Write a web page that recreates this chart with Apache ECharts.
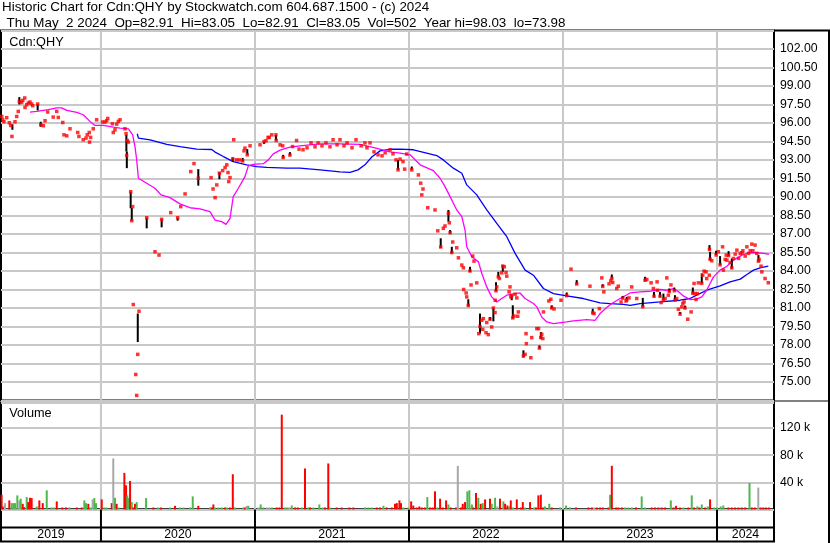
<!DOCTYPE html>
<html><head><meta charset="utf-8">
<script src="https://cdn.jsdelivr.net/npm/echarts@6/dist/echarts.min.js"></script>
<style>html,body{margin:0;padding:0;background:#fff}#c{width:830px;height:543px}</style>
</head><body><div id="c"></div>
<script>
// ---------------- DATA (time in decimal years) ----------------
const closeT = [2019.356,2019.362,2019.370,2019.388,2019.405,2019.414,2019.422,2019.442,2019.453,2019.463,2019.470,2019.485,2019.492,2019.505,2019.507,2019.518,2019.528,2019.539,2019.550,2019.557,2019.589,2019.609,2019.626,2019.637,2019.654,2019.690,2019.713,2019.723,2019.752,2019.760,2019.778,2019.799,2019.849,2019.857,2019.885,2019.903,2019.911,2019.924,2019.926,2019.933,2019.950,2019.972,
2020.011,2020.026,2020.037,2020.044,2020.074,2020.080,2020.091,2020.102,2020.113,2020.124,2020.156,2020.163,2020.167,2020.171,2020.178,2020.193,2020.200,2020.206,2020.210,2020.226,2020.232,2020.239,2020.247,2020.297,2020.351,2020.377,2020.394,2020.453,2020.498,2020.518,2020.546,2020.583,2020.604,2020.632,2020.715,2020.728,2020.741,2020.752,2020.769,2020.790,2020.806,2020.817,2020.825,2020.830,2020.838,2020.856,2020.862,2020.881,2020.898,2020.920,2020.929,2020.935,2020.950,2020.968,
2021.033,2021.059,2021.072,2021.085,2021.093,2021.109,2021.136,2021.138,2021.163,2021.180,2021.183,2021.227,2021.244,2021.270,2021.286,2021.312,2021.338,2021.364,2021.390,2021.410,2021.435,2021.461,2021.487,2021.507,2021.533,2021.552,2021.578,2021.598,2021.630,2021.656,2021.689,2021.714,2021.727,2021.747,2021.773,2021.799,2021.825,2021.845,2021.877,2021.896,2021.916,2021.929,2021.942,2021.961,2021.972,2021.985,
2022.018,2022.061,2022.076,2022.083,2022.091,2022.122,2022.169,2022.187,2022.206,2022.223,2022.234,2022.256,2022.262,2022.267,2022.278,2022.284,2022.310,2022.321,2022.343,2022.353,2022.355,2022.371,2022.375,2022.385,2022.396,2022.403,2022.414,2022.422,2022.440,2022.453,2022.461,2022.472,2022.479,2022.483,2022.500,2022.505,2022.515,2022.526,2022.537,2022.548,2022.559,2022.560,2022.565,2022.570,2022.580,2022.587,2022.602,2022.609,2022.619,2022.630,2022.635,2022.650,2022.656,2022.661,2022.667,2022.674,2022.682,2022.689,2022.700,2022.706,2022.710,2022.743,2022.754,2022.760,2022.762,2022.791,2022.797,2022.830,2022.841,2022.847,2022.856,2022.862,2022.869,2022.873,2022.908,2022.921,2022.927,2022.942,2022.987,
2023.024,2023.052,2023.089,2023.175,2023.193,2023.202,2023.236,2023.252,2023.258,2023.265,2023.299,2023.310,2023.317,2023.323,2023.349,2023.359,2023.377,2023.388,2023.409,2023.414,2023.429,2023.446,2023.479,2023.518,2023.533,2023.544,2023.572,2023.587,2023.591,2023.611,2023.613,2023.630,2023.637,2023.652,2023.663,2023.674,2023.684,2023.690,2023.701,2023.723,2023.727,2023.738,2023.749,2023.760,2023.771,2023.778,2023.786,2023.792,2023.810,2023.832,2023.843,2023.851,2023.858,2023.864,2023.872,2023.879,2023.901,2023.907,2023.916,2023.929,2023.933,2023.950,2023.951,2023.955,2023.966,2023.994,
2024.009,2024.020,2024.036,2024.042,2024.053,2024.060,2024.064,2024.075,2024.085,2024.096,2024.107,2024.118,2024.129,2024.140,2024.151,2024.162,2024.168,2024.183,2024.194,2024.205,2024.216,2024.226,2024.233,2024.247,2024.258,2024.269,2024.273,2024.286,2024.291,2024.312,2024.333];
const closeV = [96.53,96.26,96.10,96.43,96.02,95.80,94.91,96.10,96.53,96.94,97.75,97.67,97.83,98.03,97.26,97.48,97.62,97.70,97.54,97.40,97.54,95.86,95.78,96.18,96.89,96.48,96.94,96.45,96.04,95.04,94.96,95.53,95.23,94.91,94.64,94.78,95.04,95.23,94.45,94.83,95.53,96.26,
96.08,96.08,96.18,96.37,95.94,95.23,95.45,95.91,96.13,96.26,95.53,95.13,93.36,94.58,94.45,90.43,88.08,89.22,81.28,75.61,73.91,77.24,80.74,88.32,85.56,85.29,88.19,88.73,88.32,89.22,90.25,92.06,92.71,91.52,91.57,90.65,89.95,90.98,91.93,92.14,92.39,92.61,91.98,91.25,91.57,93.09,94.64,93.01,93.01,92.93,93.74,93.96,93.42,94.15,
94.23,94.50,94.56,94.83,94.83,95.04,95.04,94.58,94.23,94.15,93.20,93.40,94.09,94.58,93.88,93.83,93.99,94.39,94.07,94.39,94.15,94.39,94.07,94.64,94.23,94.64,94.15,94.39,93.99,94.64,94.15,94.39,93.99,94.39,93.66,93.42,93.34,93.58,93.83,93.50,93.01,92.20,93.07,92.87,92.26,93.48,
92.20,91.79,91.12,90.17,90.65,89.13,88.95,87.26,85.95,87.46,87.65,88.68,87.91,87.10,85.50,86.35,85.88,85.07,84.48,84.26,82.50,82.22,81.90,81.20,84.00,82.87,85.21,84.80,83.04,78.92,79.50,80.00,79.27,80.14,79.00,79.82,78.84,80.10,79.46,81.00,80.63,81.63,82.40,82.71,83.52,83.39,83.85,84.40,84.34,83.88,83.58,82.31,82.71,81.90,82.00,80.20,80.35,82.12,81.82,80.33,80.68,77.10,77.24,78.92,78.11,76.97,78.60,79.33,79.33,77.75,78.60,78.87,78.52,80.68,81.57,81.71,81.00,80.92,81.63,
82.00,84.15,82.95,82.77,80.60,80.55,80.95,83.44,82.75,82.31,82.96,83.20,83.40,83.07,82.58,82.77,81.49,81.80,81.57,81.65,81.82,82.71,81.77,81.10,83.25,83.31,83.04,82.58,81.95,83.12,82.44,81.95,81.44,81.65,81.77,83.44,82.04,82.35,82.87,82.40,81.65,81.77,80.90,80.50,81.09,81.36,81.49,81.00,80.09,80.68,82.20,82.99,82.17,81.69,82.17,83.04,83.00,83.66,83.99,83.93,83.39,83.66,85.75,84.95,84.83,85.30,
85.56,84.50,85.96,84.07,84.94,85.29,84.88,85.25,84.69,84.25,85.02,85.37,85.69,85.02,85.43,85.48,85.64,85.21,85.96,85.43,85.64,86.18,85.64,86.10,85.43,84.80,84.94,84.39,83.93,83.39,83.05];

// daily high-low ranges
const rangeT  = [2019.425,2019.470,2019.589,2019.609,2020.165,2020.168,2020.193,2020.200,2020.239,2020.297,2020.394,2020.498,2020.632,2020.769,2020.856,2020.920,2020.950,2021.059,2021.136,2021.183,2021.227,2021.929,2022.018,2022.206,2022.256,2022.267,2022.278,2022.385,2022.396,2022.461,2022.526,2022.548,2022.565,2022.580,2022.609,2022.667,2022.674,2022.743,2022.847,2022.856,2022.927,2023.024,2023.089,2023.193,2023.258,2023.317,2023.388,2023.414,2023.518,2023.533,2023.591,2023.630,2023.652,2023.690,2023.723,2023.727,2023.760,2023.792,2023.843,2023.901,2023.951,2023.955,2023.994,2024.020,2024.075,2024.096,2024.269];
const rangeLo = [95.45,97.50,97.02,95.70,93.69,92.34,89.09,88.08,78.24,87.46,87.54,88.08,90.92,91.44,92.87,92.87,93.42,94.31,94.58,93.15,93.36,92.20,92.20,85.88,88.00,87.05,85.43,81.14,83.93,78.92,80.00,79.92,82.36,83.52,83.93,81.63,80.14,77.02,77.70,78.52,80.95,81.95,82.91,80.55,82.71,83.39,81.77,81.63,81.09,83.20,81.90,81.90,81.63,82.31,82.39,81.63,80.49,80.95,82.17,82.99,85.70,84.89,85.29,84.48,85.21,84.21,84.75];
const rangeHi = [95.90,98.10,97.54,96.10,95.04,93.69,90.43,89.11,80.55,88.32,88.19,88.32,92.26,92.01,93.20,93.17,93.88,94.50,95.04,93.42,93.64,93.00,92.47,86.65,88.95,87.32,85.96,81.71,84.34,80.55,80.27,81.00,83.09,83.93,84.48,82.04,81.22,77.57,77.97,79.05,81.22,82.26,83.26,80.95,82.93,83.72,81.98,81.90,81.82,83.53,82.31,82.31,82.17,82.58,82.66,82.04,80.68,81.20,82.66,83.80,86.10,85.56,85.64,85.21,85.61,85.02,85.29];

// short moving average (magenta)
const maShortT = [2019.539,2019.583,2019.658,2019.713,2019.745,2019.778,2019.843,2019.885,2019.929,2019.961,2020.015,2020.080,2020.124,2020.178,2020.206,2020.221,2020.232,2020.243,2020.297,2020.351,2020.390,2020.448,2020.513,2020.578,2020.643,2020.708,2020.741,2020.784,2020.812,2020.838,2020.859,2020.892,2020.935,2020.957,2020.989,2021.054,2021.087,2021.119,2021.163,2021.227,2021.292,2021.422,2021.552,2021.682,2021.779,2021.877,2021.942,2022.007,2022.072,2022.158,2022.202,2022.234,2022.267,2022.310,2022.343,2022.364,2022.375,2022.408,2022.451,2022.473,2022.505,2022.537,2022.570,2022.602,2022.635,2022.689,2022.721,2022.754,2022.808,2022.830,2022.862,2022.895,2022.938,2023.024,2023.067,2023.154,2023.208,2023.241,2023.284,2023.317,2023.371,2023.436,2023.501,2023.566,2023.631,2023.674,2023.718,2023.751,2023.781,2023.825,2023.868,2023.901,2023.933,2023.955,2023.977,2024.020,2024.064,2024.107,2024.162,2024.205,2024.260,2024.304,2024.337];
const maShortV = [96.89,96.94,97.08,97.22,97.22,97.02,96.86,96.67,96.13,95.80,95.80,95.67,95.59,95.53,95.04,94.09,93.01,91.52,91.12,90.71,90.17,89.95,89.44,89.13,89.03,88.81,88.13,88.00,87.78,88.27,90.03,90.71,91.65,92.52,92.65,92.70,93.01,93.50,93.80,94.04,94.15,94.31,94.31,94.27,93.99,93.66,93.56,93.42,92.61,92.14,91.52,90.84,90.03,88.95,88.40,87.32,85.96,85.15,84.74,83.80,82.71,81.90,81.49,81.77,82.04,82.17,82.22,81.77,81.36,81.09,80.27,79.87,79.74,79.87,79.96,80.06,80.00,80.55,81.04,81.36,81.77,82.22,82.31,82.36,82.50,82.44,82.58,82.31,81.98,81.69,81.72,81.90,82.44,82.99,83.52,84.07,84.39,84.88,85.29,85.48,85.48,85.43,85.35];

// long moving average (blue)
const maLongT = [2020.236,2020.243,2020.319,2020.427,2020.513,2020.622,2020.719,2020.741,2020.795,2020.859,2020.946,2021.011,2021.076,2021.206,2021.292,2021.422,2021.552,2021.617,2021.669,2021.714,2021.760,2021.812,2021.877,2021.942,2022.029,2022.115,2022.180,2022.223,2022.288,2022.343,2022.375,2022.440,2022.505,2022.570,2022.635,2022.689,2022.754,2022.808,2022.873,2022.938,2023.024,2023.132,2023.197,2023.241,2023.306,2023.392,2023.436,2023.501,2023.631,2023.760,2023.825,2023.868,2023.933,2024.020,2024.085,2024.151,2024.194,2024.237,2024.280,2024.333];
const maLongV = [95.13,94.78,94.64,94.27,94.09,93.88,93.85,93.64,93.28,92.87,92.61,92.47,92.40,92.34,92.34,92.20,92.04,92.00,92.20,92.61,93.26,93.74,93.87,93.88,93.83,93.56,93.36,93.01,92.34,91.93,90.98,90.17,88.95,87.87,86.78,85.43,84.07,83.66,82.58,82.17,81.98,81.77,81.55,81.41,81.36,81.30,81.22,81.36,81.49,81.63,81.77,82.04,82.44,82.79,83.12,83.34,83.72,84.07,84.26,84.39];

// volume (thousands of shares) and day direction: u = up, d = down, f = unchanged
const volT = [2019.355,2019.362,2019.377,2019.405,2019.420,2019.431,2019.442,2019.457,2019.470,2019.479,2019.492,2019.500,2019.518,2019.528,2019.539,2019.550,2019.583,2019.600,2019.622,2019.648,2019.680,2019.695,2019.713,2019.749,2019.773,2019.795,2019.843,2019.875,2019.892,2019.903,2019.918,2019.933,2019.946,2019.957,2019.968,
2020.005,2020.022,2020.037,2020.070,2020.080,2020.091,2020.102,2020.113,2020.152,2020.163,2020.171,2020.178,2020.189,2020.200,2020.210,2020.221,2020.232,2020.293,2020.340,2020.372,2020.390,2020.448,2020.481,2020.513,2020.535,2020.578,2020.596,2020.632,2020.708,2020.719,2020.730,2020.741,2020.762,2020.784,2020.806,2020.817,2020.838,2020.856,2020.871,2020.924,2020.935,2020.946,2020.957,
2021.022,2021.037,2021.054,2021.076,2021.093,2021.109,2021.141,2021.158,2021.174,2021.195,2021.210,2021.223,2021.239,2021.260,2021.278,2021.304,2021.325,2021.347,2021.358,2021.379,2021.418,2021.440,2021.455,2021.476,2021.487,2021.531,2021.563,2021.613,2021.639,2021.715,2021.736,2021.758,2021.791,2021.812,2021.834,2021.855,2021.888,2021.909,2021.921,2021.938,2021.948,2021.963,2021.996,
2022.014,2022.028,2022.050,2022.067,2022.083,2022.104,2022.119,2022.137,2022.154,2022.169,2022.184,2022.202,2022.219,2022.241,2022.256,2022.271,2022.306,2022.317,2022.338,2022.349,2022.364,2022.379,2022.392,2022.408,2022.418,2022.435,2022.450,2022.466,2022.479,2022.494,2022.526,2022.537,2022.559,2022.574,2022.591,2022.613,2022.624,2022.639,2022.652,2022.661,2022.674,2022.700,2022.726,2022.739,2022.754,2022.786,2022.812,2022.825,2022.840,2022.856,2022.869,2022.883,2022.911,2022.927,2022.981,
2023.020,2023.046,2023.085,2023.165,2023.187,2023.202,2023.219,2023.241,2023.258,2023.295,2023.306,2023.317,2023.345,2023.360,2023.382,2023.403,2023.425,2023.447,2023.474,2023.511,2023.533,2023.576,2023.598,2023.619,2023.641,2023.663,2023.700,2023.717,2023.734,2023.760,2023.782,2023.814,2023.836,2023.851,2023.872,2023.885,2023.901,2023.923,2023.940,2023.955,2023.981,2023.998,
2024.024,2024.041,2024.074,2024.096,2024.118,2024.139,2024.161,2024.183,2024.211,2024.226,2024.245,2024.268,2024.283,2024.300,2024.317,2024.336];
const volK = [21.8,4.5,9.4,13.4,9.4,9.4,9.4,20.8,13.4,15.9,8.4,3.5,18.3,10.9,17.3,16.8,4.5,13.4,9.4,28.3,1,1,11.9,1,3,3,1,1,13.4,9.4,8.4,3,14.9,16.8,9.4,
14.9,3,1,9.4,75.3,17.3,8.4,3,54,35.7,20.8,16.8,42.1,10.9,1.5,8.4,10.9,16.8,1,1,1,1,5.4,1,1,3,19.3,5.4,1,3,7.4,1,3,1,1,1,1,52,3,3,3,5.4,5.4,
1,7.4,3,3,3,1,1,1,139.8,1,3,3,5.9,1,1,3,60.5,3,1,1,7.4,1,1,67.9,1,1,2,1,1,1,1,1,2,1,5.4,3,1,8.4,9.4,13.4,9.4,1,1,
11.9,5.9,1,4.5,1,1,18.3,1,1,26.8,1,15.9,1,13.4,7.4,1,1,64.4,1,8.4,10.9,26.8,28.3,7.4,1,24.3,17.3,8.4,9.4,14.9,15.9,8.4,17.3,4.5,15.9,11.9,8.4,5.9,4.5,13.4,1,14.9,1,10.9,1,10.9,1,1,20.8,21.8,3,4.5,8.4,1,1,
5.9,1,1,1,1,2,1,1,2,1,21.8,64.4,1,1,1,1,1,1,1,19.3,1,1,1,1,1,1,13.4,1,5.4,1,1,1,20.8,1,4.5,1,7.4,1,4.5,14.9,1,1,
4.5,5.9,1,1,1,1,1,1,39.1,1,1,32.3,1,1,1,1];
const volDir = ['d','d','f','d','u','u','u','u','f','u','d','d','u','d','d','d','u','d','d','u','u','u','d','d','d','u','d','d','u','u','d','u','f','u','u',
'd','u','u','d','f','u','d','u','d','d','u','u','d','u','d','d','u','u','d','u','d','u','d','u','u','u','u','d','u','d','d','u','u','u','d','u','d','d','u','u','d','f','u',
'f','u','u','f','f','u','d','d','d','u','u','f','u','d','d','u','d','u','d','u','u','u','d','d','u','d','d','d','d','u','u','u','d','d','u','d','d','d','d','d','d','u','u',
'd','d','d','d','d','d','u','d','d','d','u','d','d','d','u','d','d','f','d','d','d','u','u','u','d','d','u','d','u','d','d','u','u','f','d','u','d','d','u','d','u','d','d','d','u','d','u','d','d','d','d','u','u','d','u',
'u','u','d','d','d','f','d','d','d','d','u','d','d','d','d','u','u','u','d','u','u','d','d','d','d','d','u','d','d','d','u','d','u','d','u','d','u','d','u','d','u','u',
'u','u','d','d','d','d','d','d','u','d','d','f','d','d','d','d'];

const yearStarts = [2020, 2021, 2022, 2023, 2024];
const yearNames = [2019, 2020, 2021, 2022, 2023, 2024];

// ---------------- CHART ----------------
const X_MIN = 2019.351, X_MAX = 2024.370;
const FONT = "'Liberation Sans', Arial, Helvetica, sans-serif";
const GRID_GRAY = '#c8c8c8';
const dirColor = {u:'#4cb84c', d:'#ff0000', f:'#a8a8a8'};

function yearLineRenderer(color){
  return function(params, api){
    const cs = params.coordSys;
    const x = api.coord([api.value(0), api.value(1)])[0];
    return {type:'line', shape:{x1:x, y1:cs.y, x2:x, y2:cs.y + cs.height}, style:{stroke:color, lineWidth:2}};
  };
}

const chart = echarts.init(document.getElementById('c'), null, {renderer:'canvas', width:830, height:543});

const xAxisCommon = {type:'value', min:X_MIN, max:X_MAX, show:false};

const option = {
  animation:false,
  backgroundColor:'#ffffff',
  grid:[
    {left:1, right:56, top:30.5, height:370, show:true, borderColor:'#000', borderWidth:2, backgroundColor:'transparent'},
    {left:1, right:56, top:403, height:106.5, show:true, borderColor:'#000', borderWidth:2, backgroundColor:'transparent'},
    {left:1, right:56, top:509.5, height:32, show:true, borderColor:'#000', borderWidth:2, backgroundColor:'transparent'}
  ],
  xAxis:[
    Object.assign({gridIndex:0}, xAxisCommon),
    Object.assign({gridIndex:1}, xAxisCommon),
    Object.assign({gridIndex:2}, xAxisCommon)
  ],
  yAxis:[
    {gridIndex:0, type:'value', position:'right', min:73.5, max:103.5, interval:1.5,
     axisLine:{show:false}, axisTick:{show:false},
     splitLine:{show:true, lineStyle:{color:GRID_GRAY, width:2}},
     axisLabel:{show:true, margin:6, align:'left', showMinLabel:false, showMaxLabel:false,
       formatter:v=>v.toFixed(2), color:'#000', fontSize:12.3, fontFamily:FONT}},
    {gridIndex:1, type:'value', position:'right', min:0, max:157, interval:40,
     axisLine:{show:false}, axisTick:{show:false},
     splitLine:{show:true, lineStyle:{color:GRID_GRAY, width:2}},
     axisLabel:{show:true, margin:6, align:'left', showMinLabel:false, showMaxLabel:false,
       formatter:v=>v + ' k', color:'#000', fontSize:12.3, fontFamily:FONT}},
    {gridIndex:2, type:'value', min:0, max:32, show:false}
  ],
  series:[
    {type:'custom', name:'yearGridPrice', xAxisIndex:0, yAxisIndex:0, z:1, silent:true,
     data:yearStarts.map(y=>[y, 80]), encode:{x:0, y:1}, renderItem:yearLineRenderer(GRID_GRAY)},
    {type:'line', name:'MA long', xAxisIndex:0, yAxisIndex:0, z:3, showSymbol:false, symbol:'none',
     data:maLongT.map((t,i)=>[t, maLongV[i]]), lineStyle:{color:'#0000ff', width:1.3}},
    {type:'line', name:'MA short', xAxisIndex:0, yAxisIndex:0, z:3, showSymbol:false, symbol:'none',
     data:maShortT.map((t,i)=>[t, maShortV[i]]), lineStyle:{color:'#ff00ff', width:1.3}},
    {type:'custom', name:'range', xAxisIndex:0, yAxisIndex:0, z:4, silent:true,
     data:rangeT.map((t,i)=>[t, rangeLo[i], rangeHi[i]]), encode:{x:0, y:[1,2]},
     renderItem:function(params, api){
       const p1 = api.coord([api.value(0), api.value(1)]);
       const p2 = api.coord([api.value(0), api.value(2)]);
       return {type:'line', shape:{x1:p1[0], y1:p1[1], x2:p2[0], y2:p2[1]}, style:{stroke:'#000', lineWidth:2}};
     }},
    {type:'scatter', name:'close', xAxisIndex:0, yAxisIndex:0, z:5, symbol:'rect', symbolSize:3.5,
     data:closeT.map((t,i)=>[t, closeV[i]]), itemStyle:{color:'#ff0000'}},
    {type:'custom', name:'yearGridVol', xAxisIndex:1, yAxisIndex:1, z:1, silent:true,
     data:yearStarts.map(y=>[y, 10]), encode:{x:0, y:1}, renderItem:yearLineRenderer(GRID_GRAY)},
    {type:'bar', name:'volume', xAxisIndex:1, yAxisIndex:1, z:3, barWidth:2, barMinHeight:2,
     data:volT.map((t,i)=>[t, volK[i]]),
     itemStyle:{color:p=>dirColor[volDir[p.dataIndex]]}},
    {type:'custom', name:'yearSep', xAxisIndex:2, yAxisIndex:2, z:3, silent:true,
     data:yearStarts.map(y=>[y, 16]), encode:{x:0, y:1}, renderItem:yearLineRenderer('#000')},
    {type:'custom', name:'yearLabels', xAxisIndex:2, yAxisIndex:2, z:3, silent:true,
     data:yearNames.map(y=>[(Math.max(y, X_MIN) + Math.min(y + 1, X_MAX)) / 2, 7.2, y]), encode:{x:0, y:1},
     renderItem:function(params, api){
       const p = api.coord([api.value(0), api.value(1)]);
       return {type:'text', x:p[0], y:p[1], style:{text:String(api.value(2)), fill:'#000',
         font:'12.3px ' + FONT, align:'center', verticalAlign:'middle', textAlign:'center', textVerticalAlign:'middle'}};
     }}
  ],
  graphic:[
    {type:'text', x:2, y:7, style:{text:'Historic Chart for Cdn:QHY by Stockwatch.com 604.687.1500 - (c) 2024', fill:'#000', font:'13.4px ' + FONT, verticalAlign:'middle'}},
    {type:'text', x:6.5, y:23.3, style:{text:'Thu May  2 2024  Op=82.91  Hi=83.05  Lo=82.91  Cl=83.05  Vol=502  Year hi=98.03  lo=73.98', fill:'#000', font:'13.4px ' + FONT, verticalAlign:'middle'}},
    {type:'text', x:9.3, y:42, z:10, style:{text:'Cdn:QHY', fill:'#000', font:'12.7px ' + FONT, verticalAlign:'middle'}},
    {type:'text', x:9.3, y:413.3, z:10, style:{text:'Volume', fill:'#000', font:'12.7px ' + FONT, verticalAlign:'middle'}},
    {type:'line', shape:{x1:1, y1:527.5, x2:774, y2:527.5}, style:{stroke:'#000', lineWidth:2}, z:10},
    {type:'line', shape:{x1:774, y1:30.5, x2:830, y2:30.5}, style:{stroke:'#000', lineWidth:2}, z:10},
    {type:'line', shape:{x1:829, y1:30.5, x2:829, y2:543}, style:{stroke:'#000', lineWidth:2}, z:10},
    {type:'line', shape:{x1:774, y1:401, x2:829, y2:401}, style:{stroke:'#000', lineWidth:1}, z:10}
  ]
};
chart.setOption(option);
</script>
</body></html>
